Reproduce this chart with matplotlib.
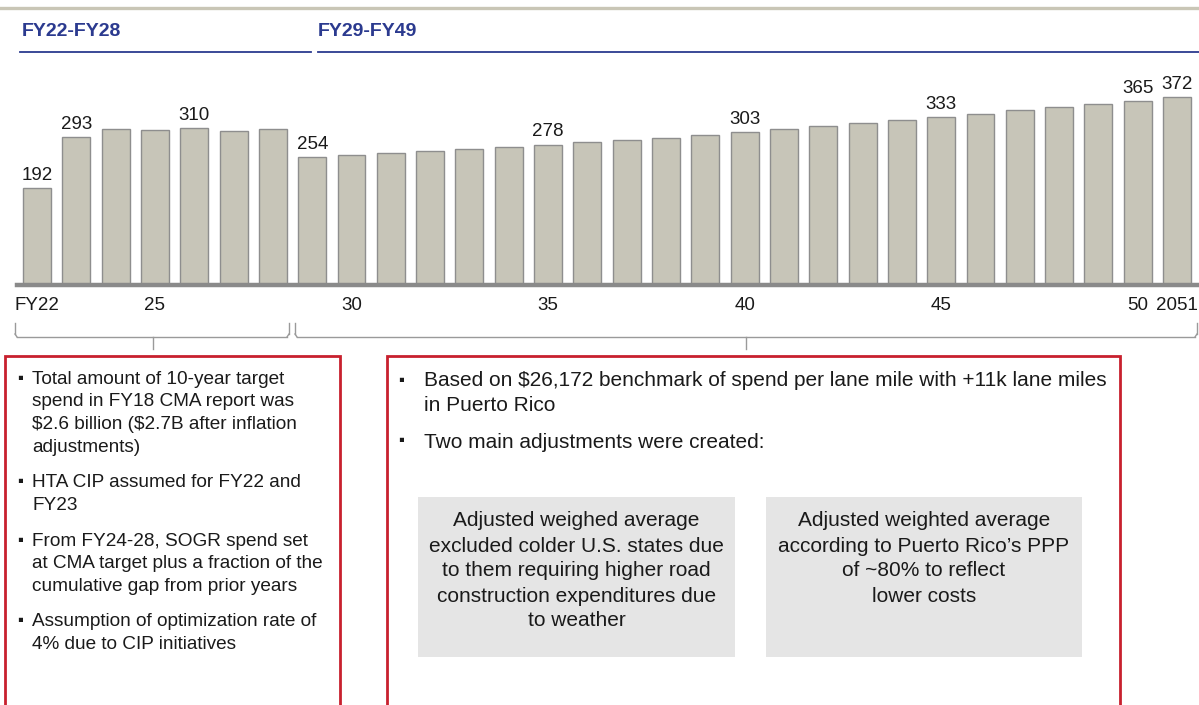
import matplotlib.pyplot as plt
import numpy as np

plt.rcParams['font.family'] = ['Liberation Sans', 'DejaVu Sans']

# data
years = list(range(2022, 2052))
spend = [192, 293, 309, 306, 310, 304, 309,
         254, 258, 262, 266, 270, 274, 278, 283, 287, 291, 297,
         303, 309, 315, 321, 327, 333, 339, 346, 353, 359, 365, 372]
labelled = [2022, 2023, 2026, 2029, 2035, 2040, 2045, 2050, 2051]
tick_years = [2022, 2025, 2030, 2035, 2040, 2045, 2050, 2051]
tick_labels = ['FY22', '25', '30', '35', '40', '45', '50', '2051']
periods = ['FY22-FY28', 'FY29-FY49']

left_notes = [
    ['Total amount of 10-year target', 'spend in FY18 CMA report was',
     '$2.6 billion ($2.7B after inflation', 'adjustments)'],
    ['HTA CIP assumed for FY22 and', 'FY23'],
    ['From FY24-28, SOGR spend set', 'at CMA target plus a fraction of the',
     'cumulative gap from prior years'],
    ['Assumption of optimization rate of', '4% due to CIP initiatives'],
]
right_notes = [
    ['Based on $26,172 benchmark of spend per lane mile with +11k lane miles',
     'in Puerto Rico'],
    ['Two main adjustments were created:'],
]
adjustments = [
    ['Adjusted weighed average', 'excluded colder U.S. states due',
     'to them requiring higher road', 'construction expenditures due', 'to weather'],
    ['Adjusted weighted average', 'according to Puerto Rico\u2019s PPP',
     'of ~80% to reflect', 'lower costs'],
]

W, H = 1199, 705
fig = plt.figure(figsize=(W / 100, H / 100), dpi=100)

def fx(px):
    return px / W

def fy(py):
    return 1 - py / H

def line(x0, y0, x1, y1, **kw):
    fig.add_artist(plt.Line2D([fx(x0), fx(x1)], [fy(y0), fy(y1)],
                              transform=fig.transFigure, **kw))

RED = '#C8202E'
BLUE = '#2B3A8F'
INK = '#1a1a1a'

# header
line(0, 8, W, 8, color='#C9C6B6', lw=2.4)
fig.text(fx(22), fy(32), periods[0], color=BLUE, fontsize=14, fontweight='bold', va='center')
fig.text(fx(318), fy(32), periods[1], color=BLUE, fontsize=14, fontweight='bold', va='center')
line(20, 52, 311, 52, color=BLUE, lw=1.3)
line(318, 52, W, 52, color=BLUE, lw=1.3)

# bar chart
ax = fig.add_axes([fx(17.35), 1 - 285 / H, (1196.7 - 17.35) / W, 202 / H])
x = np.arange(len(years))
ax.bar(x, spend, width=0.71, color='#C7C5B8', edgecolor='#8E8E8E', linewidth=1, zorder=2)
for yr in labelled:
    i = years.index(yr)
    ax.annotate(str(spend[i]), (x[i], spend[i]), xytext=(0, 3), textcoords='offset points',
                ha='center', va='bottom', fontsize=13.5, color=INK)
ax.set_xlim(-0.5, len(years) - 0.5)
ax.set_ylim(0, 400)
ax.set_xticks([years.index(t) for t in tick_years])
ax.set_xticklabels(tick_labels, fontsize=13.5, color=INK)
ax.tick_params(axis='x', length=0, pad=9)
ax.set_yticks([])
for s in ['top', 'left', 'right']:
    ax.spines[s].set_visible(False)
ax.spines['bottom'].set_color('#8A8A8A')
ax.spines['bottom'].set_linewidth(3.2)
ax.patch.set_alpha(0)

# braces
bc = '#9A9A9A'
for x0, x1, xm in [(15, 289, 153), (295, 1197, 746)]:
    line(x0, 323, x0, 334, color=bc, lw=1)
    line(x0 + 2, 337, x1 - 2, 337, color=bc, lw=1)
    line(x0, 334, x0 + 2, 337, color=bc, lw=1)
    line(x1, 323, x1, 334, color=bc, lw=1)
    line(x1, 334, x1 - 2, 337, color=bc, lw=1)
    line(xm, 337, xm, 349, color=bc, lw=1)

# red boxes
for x0, x1 in [(5, 340), (387, 1120)]:
    fig.add_artist(plt.Rectangle((fx(x0), fy(712)), fx(x1 - x0), (712 - 356) / H,
                                 transform=fig.transFigure, fill=False,
                                 edgecolor=RED, lw=2))

# left box notes
y = 379
for note in left_notes:
    fig.text(fx(20), fy(y - 1), '\u25aa', fontsize=12, va='center', ha='center', color=INK)
    for ln in note:
        fig.text(fx(32), fy(y), ln, fontsize=13.7, va='center', color=INK, parse_math=False)
        y += 22.8
    y += 12.6

# right box notes
y = 381
for note in right_notes:
    fig.text(fx(401), fy(y - 1), '\u25aa', fontsize=12, va='center', ha='center', color=INK)
    for ln in note:
        fig.text(fx(424), fy(y), ln, fontsize=15, va='center', color=INK, parse_math=False)
        y += 24.5
    y += 12

# adjustment boxes
for (x0, x1), lines_ in zip([(418, 735), (766, 1082)], adjustments):
    fig.add_artist(plt.Rectangle((fx(x0), fy(657)), fx(x1 - x0), (657 - 497) / H,
                                 transform=fig.transFigure, facecolor='#E5E5E5',
                                 edgecolor='none'))
    for k, ln in enumerate(lines_):
        fig.text(fx((x0 + x1) / 2), fy(521 + 25 * k), ln, fontsize=15,
                 ha='center', va='center', color=INK)

fig.savefig('out.png', dpi=100)
